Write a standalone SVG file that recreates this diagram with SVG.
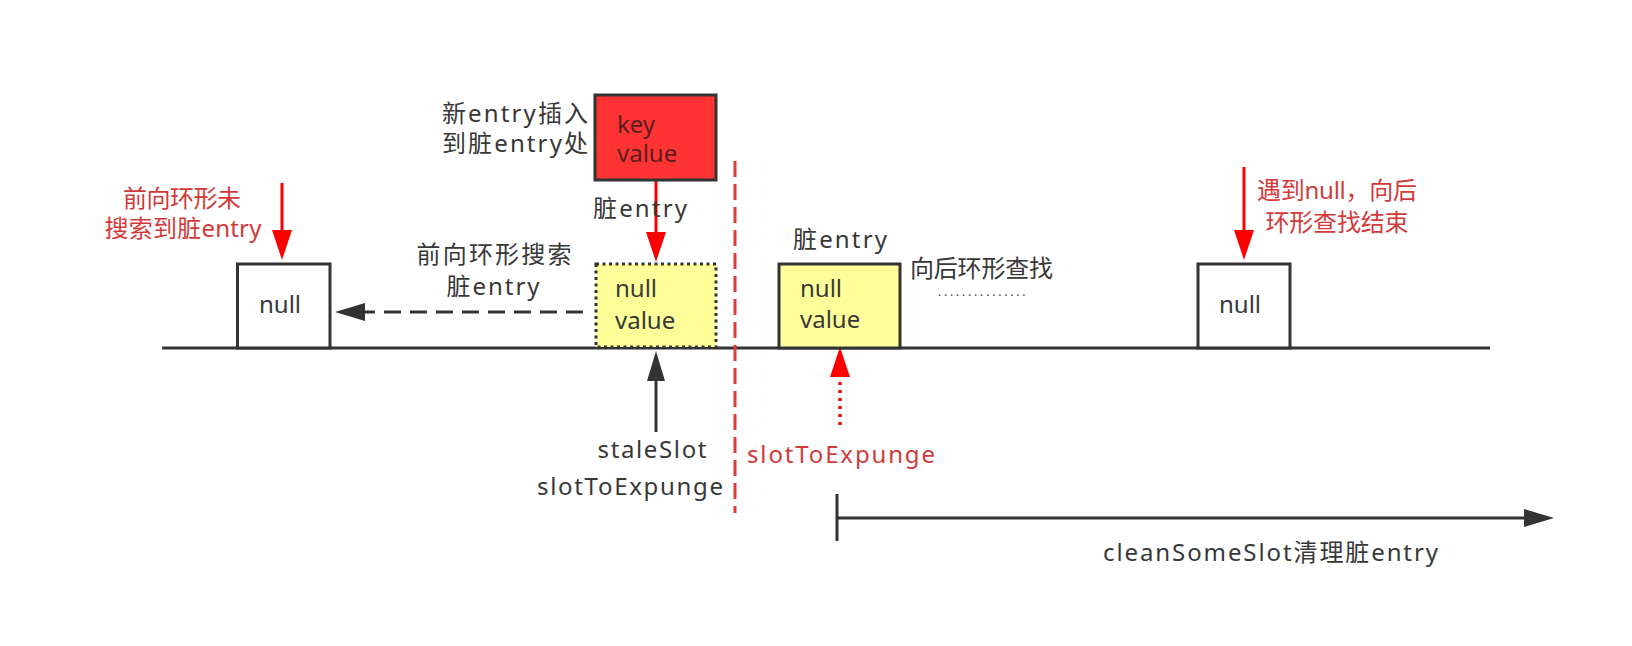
<svg xmlns="http://www.w3.org/2000/svg" width="1632" height="646" viewBox="0 0 1632 646">
<style>
text{font-family:"Noto Sans","Noto Sans CJK SC",sans-serif;font-size:24px;fill:#383838}
.red{fill:#d23a3a}
.keyv{fill:#5a1e1e}
.box{stroke:#333;stroke-width:3}
.ln{stroke:#333;stroke-width:3;fill:none}
.rln{stroke:#f00;stroke-width:3;fill:none}
.mid{text-anchor:middle}
</style>
<defs>
<marker id="ar" viewBox="0 0 30 20" markerWidth="30" markerHeight="20" refX="24" refY="10" orient="auto" markerUnits="userSpaceOnUse"><path d="M0,0 L30,10 L0,20 z" fill="#f00"/></marker>
<marker id="ab" viewBox="0 0 30 18" markerWidth="30" markerHeight="18" refX="24" refY="9" orient="auto" markerUnits="userSpaceOnUse"><path d="M0,0 L30,9 L0,18 z" fill="#333"/></marker>
</defs>
<rect width="1632" height="646" fill="#fff"/>

<g id="connectors">
<line class="ln" x1="162" y1="348" x2="1490" y2="348"/>
<line class="rln" x1="282" y1="183" x2="282" y2="254" marker-end="url(#ar)"/>
<line class="rln" x1="656" y1="181" x2="656" y2="256" marker-end="url(#ar)"/>
<line class="rln" x1="1244" y1="167" x2="1244" y2="254" marker-end="url(#ar)"/>
<line class="ln" x1="583" y1="312" x2="341" y2="312" stroke-dasharray="17 9" marker-end="url(#ab)"/>
<line class="ln" x1="656" y1="432" x2="656" y2="357" marker-end="url(#ab)"/>
<line x1="840" y1="425" x2="840" y2="378" stroke="#e81010" stroke-width="3.5" stroke-dasharray="3 5"/>
<path d="M840,347 L850,377 L830,377 z" fill="#f00"/>
<line x1="735" y1="161" x2="735" y2="513" stroke="#e03c3c" stroke-width="3" stroke-dasharray="16 7"/>
<line class="ln" x1="837" y1="494" x2="837" y2="541"/>
<line class="ln" x1="837" y1="518" x2="1548" y2="518" marker-end="url(#ab)"/>
</g>

<g id="node-null-left">
<rect class="box" x="237.5" y="264" width="92.5" height="84" fill="#fff"/>
<text x="280" y="313" class="mid">null</text>
</g>
<g id="label-front-not-found">
<text class="red mid" x="182" y="207" textLength="118">前向环形未</text>
<text class="red mid" x="183" y="237" textLength="157">搜索到脏entry</text>
</g>
<g id="label-front-search">
<text class="mid" x="494" y="263" textLength="155">前向环形搜索</text>
<text class="mid" x="493" y="295" textLength="93">脏entry</text>
</g>
<g id="node-new-entry">
<rect class="box" x="595" y="95" width="121" height="85" fill="#f33"/>
<text class="keyv"><tspan x="617" y="133">key</tspan><tspan x="617" y="162">value</tspan></text>
</g>
<g id="label-new-entry">
<text x="442" y="122" textLength="146">新entry插入</text>
<text x="442" y="152" textLength="146">到脏entry处</text>
</g>
<text x="593" y="217" textLength="94">脏entry</text>
<g id="node-stale">
<rect class="box" x="596" y="264" width="120" height="83" fill="#ffff99" stroke-dasharray="3 3.5"/>
<text x="615" y="297">null</text>
<text x="615" y="329">value</text>
</g>
<g id="node-dirty2">
<rect class="box" x="779" y="264" width="121" height="84" fill="#ffff99"/>
<text x="800" y="297">null</text>
<text x="800" y="328">value</text>
</g>
<text x="793" y="248" textLength="94">脏entry</text>
<g id="label-back-search">
<text><tspan x="910" y="277" textLength="143">向后环形查找</tspan><tspan x="938" y="296" font-size="12" letter-spacing="2.8">...............</tspan></text>
</g>
<g id="node-null-right">
<rect class="box" x="1198" y="264" width="92" height="84" fill="#fff"/>
<text x="1240" y="313" class="mid">null</text>
</g>
<g id="label-end">
<text class="red mid" x="1337" y="199" textLength="160">遇到null，向后</text>
<text class="red mid" x="1337" y="231" textLength="143">环形查找结束</text>
</g>
<g id="label-staleslot">
<text class="mid" x="652" y="458" textLength="109">staleSlot</text>
<text class="mid" x="630" y="495" textLength="186">slotToExpunge</text>
</g>
<text class="red mid" x="841" y="463" textLength="188">slotToExpunge</text>
<text x="1103" y="561" textLength="335">cleanSomeSlot清理脏entry</text>
</svg>
